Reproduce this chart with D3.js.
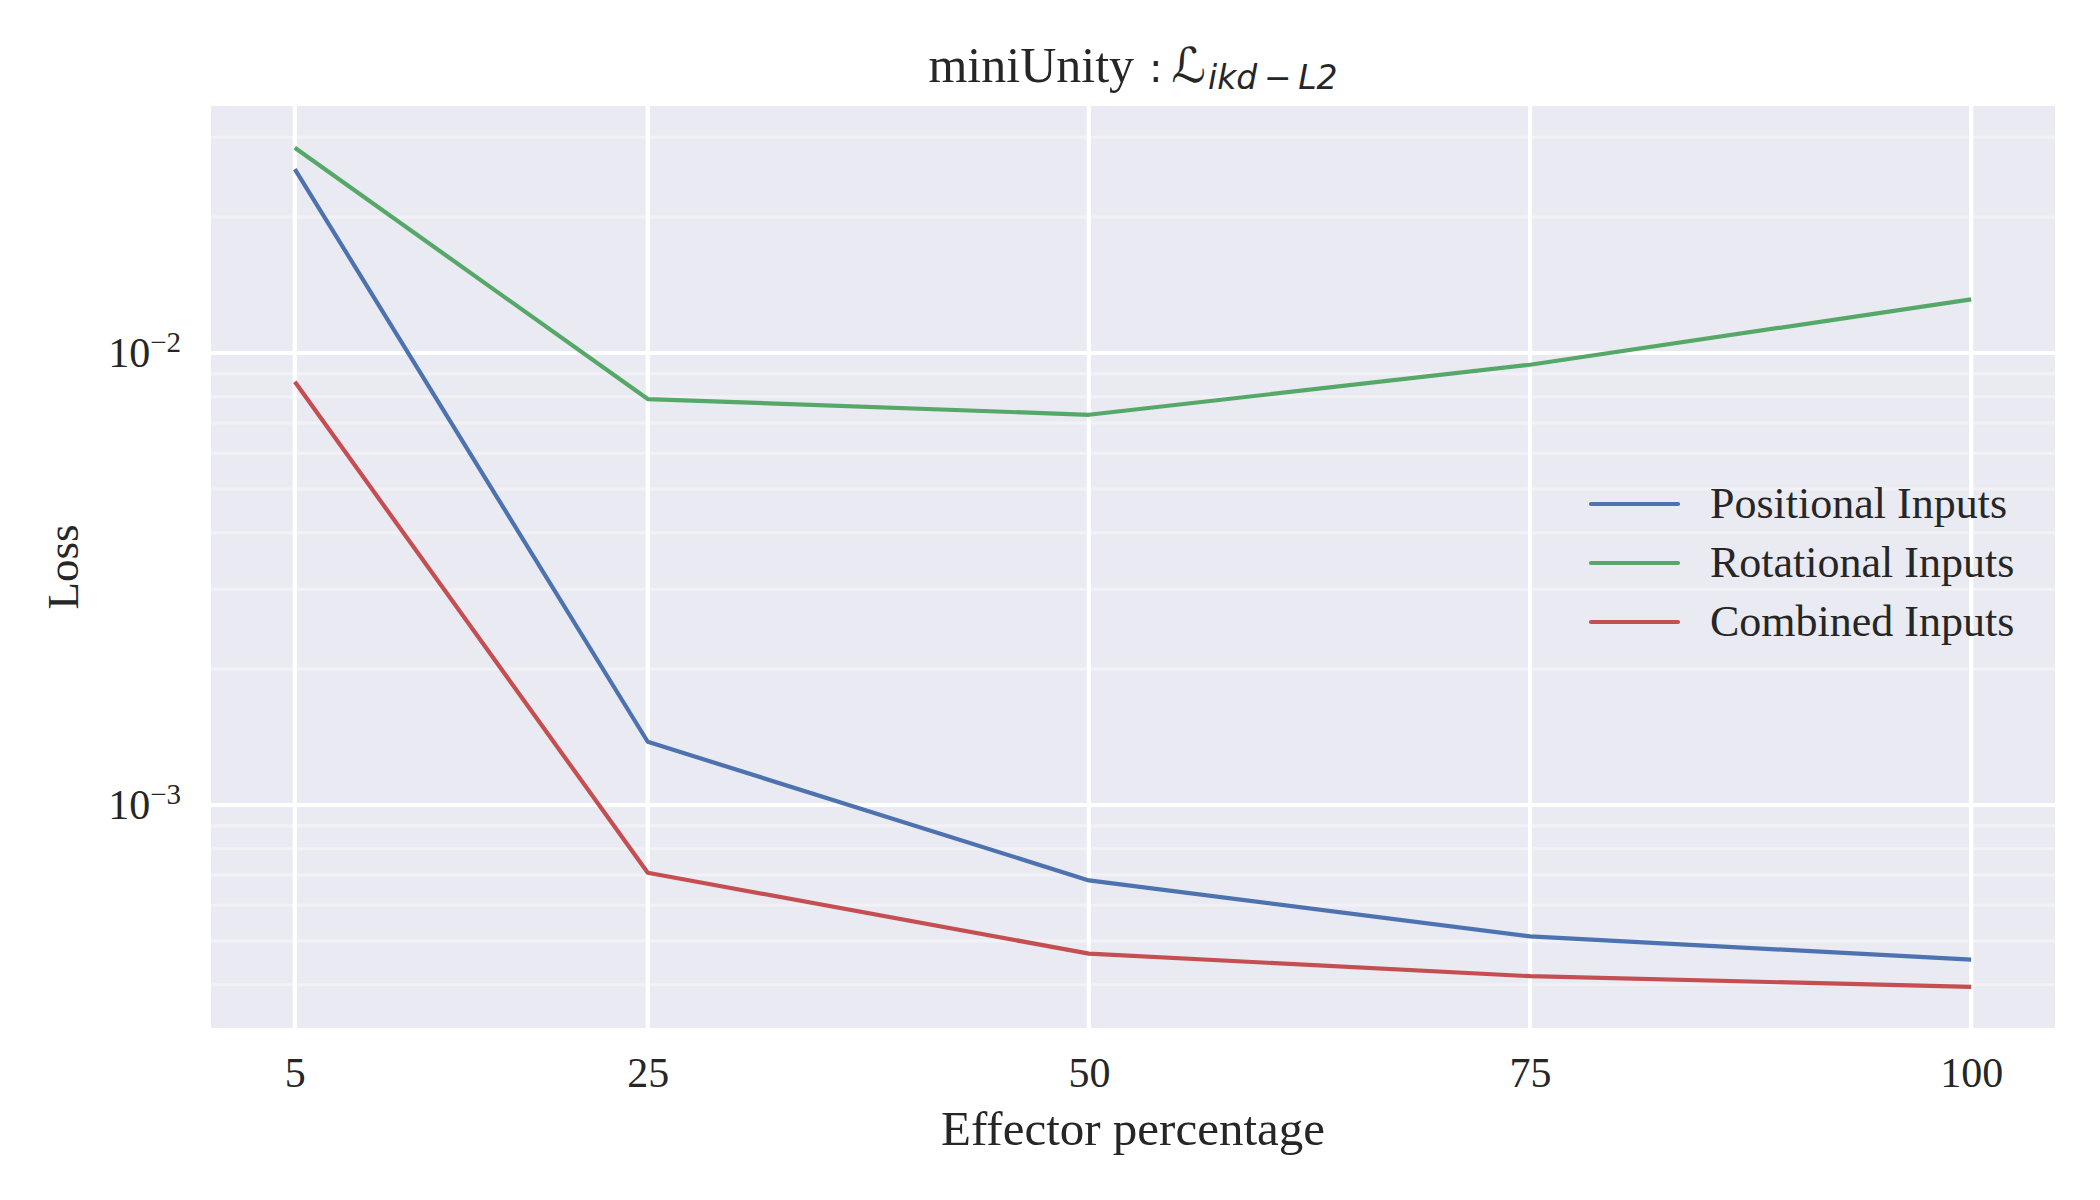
<!DOCTYPE html>
<html>
<head>
<meta charset="utf-8">
<script src="https://cdn.jsdelivr.net/npm/d3@7"></script>
<style>
  html, body { margin: 0; padding: 0; background: #ffffff; }
  svg { display: block; }
</style>
</head>
<body>
<svg id="chart" width="2100" height="1200"></svg>
<script>
// ---- data ----
const effector = [5, 25, 50, 75, 100];
const positional = [0.02553, 0.00138, 0.000681, 0.000512, 0.000455];
const rotational = [0.02845, 0.00791, 0.00730, 0.00942, 0.01314];
const combined   = [0.00864, 0.000708, 0.000469, 0.000418, 0.000396];
const seriesNames = ["Positional Inputs", "Rotational Inputs", "Combined Inputs"];
const seriesColors = ["#4C72B0", "#55A868", "#C44E52"];
const xTicks = [5, 25, 50, 75, 100];
const yMajorExps = [-3, -2];
const yMinorMult = [2, 3, 4, 5, 6, 7, 8, 9];
const xLimits = [0.25, 104.75];
const yLimits = [Math.pow(10, -3.4934), Math.pow(10, -1.4535)];

const series = [positional, rotational, combined];

(function () {
// ---- layout ----
const svg = d3.select("#chart");
const pL = 211, pR = 2055, pT = 106, pB = 1028;
const textColor = "#262626";
const serif = "'Liberation Serif', 'Times New Roman', serif";

const x = d3.scaleLinear().domain(xLimits).range([pL, pR]);
const y = d3.scaleLog().domain(yLimits).range([pB, pT]);

// background
svg.append("rect")
  .attr("x", pL).attr("y", pT)
  .attr("width", pR - pL).attr("height", pB - pT)
  .attr("fill", "#EAEAF2");

// minor horizontal grid
const minorVals = [];
[-4, -3, -2, -1].forEach(e => yMinorMult.forEach(m => {
  const v = m * Math.pow(10, e);
  if (v >= yLimits[0] && v <= yLimits[1]) minorVals.push(v);
}));
svg.append("g").selectAll("line").data(minorVals).join("line")
  .attr("x1", pL).attr("x2", pR)
  .attr("y1", d => y(d)).attr("y2", d => y(d))
  .attr("stroke", "#F1F1F6").attr("stroke-width", 3);

// major grid
const majorVals = yMajorExps.map(e => Math.pow(10, e));
svg.append("g").selectAll("line").data(majorVals).join("line")
  .attr("x1", pL).attr("x2", pR)
  .attr("y1", d => y(d)).attr("y2", d => y(d))
  .attr("stroke", "#ffffff").attr("stroke-width", 4.2);
svg.append("g").selectAll("line").data(xTicks).join("line")
  .attr("x1", d => x(d)).attr("x2", d => x(d))
  .attr("y1", pT).attr("y2", pB)
  .attr("stroke", "#ffffff").attr("stroke-width", 4.2);

// x axis via d3 axis (no domain line, no ticks)
const xAxis = d3.axisBottom(x).tickValues(xTicks).tickSize(0).tickPadding(0).tickFormat(d3.format("d"));
const gx = svg.append("g").attr("transform", `translate(0,${pB})`).call(xAxis);
gx.select(".domain").remove();
gx.selectAll("text")
  .attr("y", 59).attr("dy", null)
  .attr("font-family", serif).attr("font-size", 42).attr("fill", textColor);

// y axis labels 10^e
const gy = svg.append("g");
yMajorExps.forEach(e => {
  const t = gy.append("text")
    .attr("x", 181).attr("y", y(Math.pow(10, e)) + 14)
    .attr("text-anchor", "end")
    .attr("font-family", serif).attr("font-size", 42).attr("fill", textColor);
  t.append("tspan").text("10");
  t.append("tspan").attr("font-size", 29).attr("dy", -15).text("\u2212" + Math.abs(e));
});

// lines
const line = d3.line().x((d, i) => x(effector[i])).y(d => y(d));
svg.append("g").selectAll("path").data(series).join("path")
  .attr("d", d => line(d))
  .attr("fill", "none")
  .attr("stroke", (d, i) => seriesColors[i])
  .attr("stroke-width", 4.2)
  .attr("stroke-linejoin", "round")
  .attr("stroke-linecap", "butt");

// legend
const lg = svg.append("g");
seriesNames.forEach((name, i) => {
  const cy = 504 + i * 59;
  lg.append("line").attr("x1", 1591).attr("x2", 1678).attr("y1", cy).attr("y2", cy)
    .attr("stroke", seriesColors[i]).attr("stroke-width", 4.2).attr("stroke-linecap", "round");
  lg.append("text").attr("x", 1710).attr("y", cy + 14)
    .attr("font-family", serif).attr("font-size", 44).attr("fill", textColor).text(name);
});

// axis labels
svg.append("text").attr("x", (pL + pR) / 2).attr("y", 1145)
  .attr("text-anchor", "middle").attr("font-family", serif).attr("font-size", 49)
  .attr("fill", textColor).text("Effector percentage");
svg.append("text")
  .attr("transform", `translate(78,${(pT + pB) / 2}) rotate(-90)`)
  .attr("text-anchor", "middle").attr("font-family", serif).attr("font-size", 45)
  .attr("fill", textColor).text("Loss");

// title
const title = svg.append("text").attr("x", (pL + pR) / 2).attr("y", 82)
  .attr("text-anchor", "middle").attr("fill", textColor);
title.append("tspan").attr("font-family", serif).attr("font-size", 50).text("miniUnity");
title.append("tspan").attr("font-family", "'DejaVu Sans', sans-serif").attr("font-size", 40).attr("dx", 15).text(":");
title.append("tspan").attr("font-family", "'DejaVu Serif', 'DejaVu Sans', serif").attr("font-style", "italic").attr("font-size", 48).attr("dx", 9).text("\u2112");
title.append("tspan").attr("font-family", "'DejaVu Sans', sans-serif").attr("font-style", "italic")
  .attr("font-size", 33).attr("dy", 7).attr("dx", 2).text("ikd\u2009\u2212\u2009L2");
})();
</script>
</body>
</html>
